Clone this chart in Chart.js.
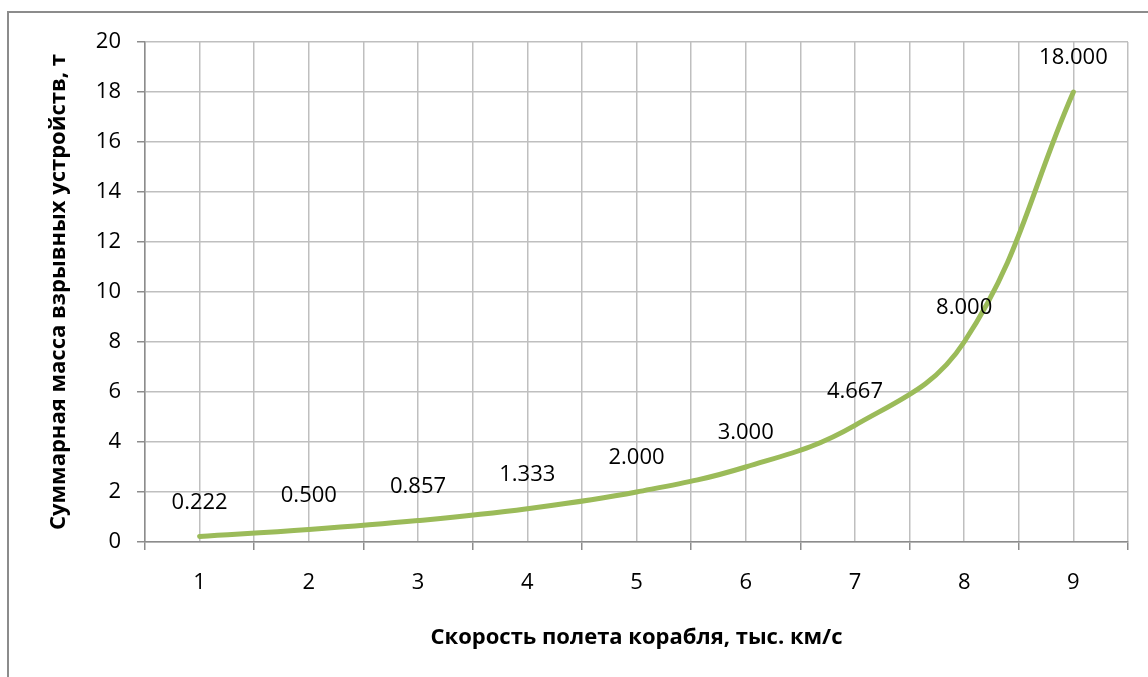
<!DOCTYPE html>
<html>
<head>
<meta charset="utf-8">
<script src="https://cdn.jsdelivr.net/npm/chart.js@4/dist/chart.umd.min.js"></script>
<style>
html,body{margin:0;padding:0;background:#fff;}
#wrap{width:1148px;height:677px;position:relative;}
</style>
</head>
<body>
<div id="wrap"><canvas id="c" width="1148" height="677"></canvas></div>
<script>
const categories = [1, 2, 3, 4, 5, 6, 7, 8, 9];
const massValues = [0.222, 0.500, 0.857, 1.333, 2.000, 3.000, 4.667, 8.000, 18.000];
const dataLabels = ['0.222', '0.500', '0.857', '1.333', '2.000', '3.000', '4.667', '8.000', '18.000'];
const xTitle = 'Скорость полета корабля, тыс. км/с';
const yTitle = 'Суммарная масса взрывных устройств, т';

const FONT = '"Open Sans", "Noto Sans", sans-serif';

const framePlugin = {
  id: 'frame',
  beforeDraw(chart) {
    const ctx = chart.ctx;
    ctx.save();
    ctx.fillStyle = '#ffffff';
    ctx.fillRect(0, 0, chart.width, chart.height);
    ctx.strokeStyle = '#8c8c8c';
    ctx.lineWidth = 2;
    ctx.strokeRect(8, 12, chart.width + 20, chart.height + 20);
    ctx.restore();
  }
};

const labelPlugin = {
  id: 'pointLabels',
  afterDatasetsDraw(chart) {
    const ctx = chart.ctx;
    const meta = chart.getDatasetMeta(0);
    ctx.save();
    ctx.font = '22px ' + FONT;
    ctx.fillStyle = '#000';
    ctx.textAlign = 'center';
    ctx.textBaseline = 'middle';
    meta.data.forEach((pt, i) => {
      ctx.fillText(dataLabels[i], pt.x, pt.y - 34);
    });
    ctx.restore();
  }
};

new Chart(document.getElementById('c'), {
  type: 'line',
  data: {
    datasets: [{
      data: categories.map((c, i) => ({ x: c, y: massValues[i] })),
      borderColor: '#9bbb59',
      borderWidth: 5,
      pointRadius: 0,
      tension: 0.4,
      fill: false,
      borderCapStyle: 'round'
    }]
  },
  options: {
    responsive: false,
    animation: false,
    devicePixelRatio: 1,
    layout: { padding: { left: 0, top: 42, right: 18, bottom: 0 } },
    plugins: { legend: { display: false }, tooltip: { enabled: false } },
    scales: {
      x: {
        type: 'linear',
        min: 0.5,
        max: 9.5,
        afterFit(scale) { scale.height = 135; },
        afterBuildTicks(scale) {
          const t = [];
          for (let v = 0.5; v <= 9.5001; v += 0.5) t.push({ value: Math.round(v * 10) / 10 });
          scale.ticks = t;
        },
        ticks: {
          autoSkip: false,
          maxRotation: 0,
          padding: 20,
          color: '#000',
          font: { family: FONT, size: 22 },
          callback: (v) => Number.isInteger(v) ? String(v) : ''
        },
        grid: {
          color: '#bfbfbf',
          lineWidth: 1.5,
          tickLength: 8,
          tickColor: (ctx) => (ctx.tick && !Number.isInteger(ctx.tick.value)) ? '#8c8c8c' : 'rgba(0,0,0,0)'
        },
        border: { color: '#8c8c8c', width: 1.5 },
        title: {
          display: true,
          text: xTitle,
          color: '#000',
          font: { family: FONT, size: 22, weight: 'bold' },
          padding: { top: 26, bottom: 26 }
        }
      },
      y: {
        min: 0,
        max: 20,
        afterFit(scale) { scale.width = 145; },
        ticks: {
          stepSize: 2,
          padding: 16,
          color: '#000',
          font: { family: FONT, size: 22 }
        },
        grid: {
          color: '#bfbfbf',
          lineWidth: 1.5,
          tickLength: 8,
          tickColor: '#8c8c8c'
        },
        border: { color: '#8c8c8c', width: 1.5 },
        title: {
          display: true,
          text: yTitle,
          color: '#000',
          font: { family: FONT, size: 22, weight: 'bold' },
          padding: { top: 46, bottom: 46 }
        }
      }
    }
  },
  plugins: [framePlugin, labelPlugin]
});
</script>
</body>
</html>
